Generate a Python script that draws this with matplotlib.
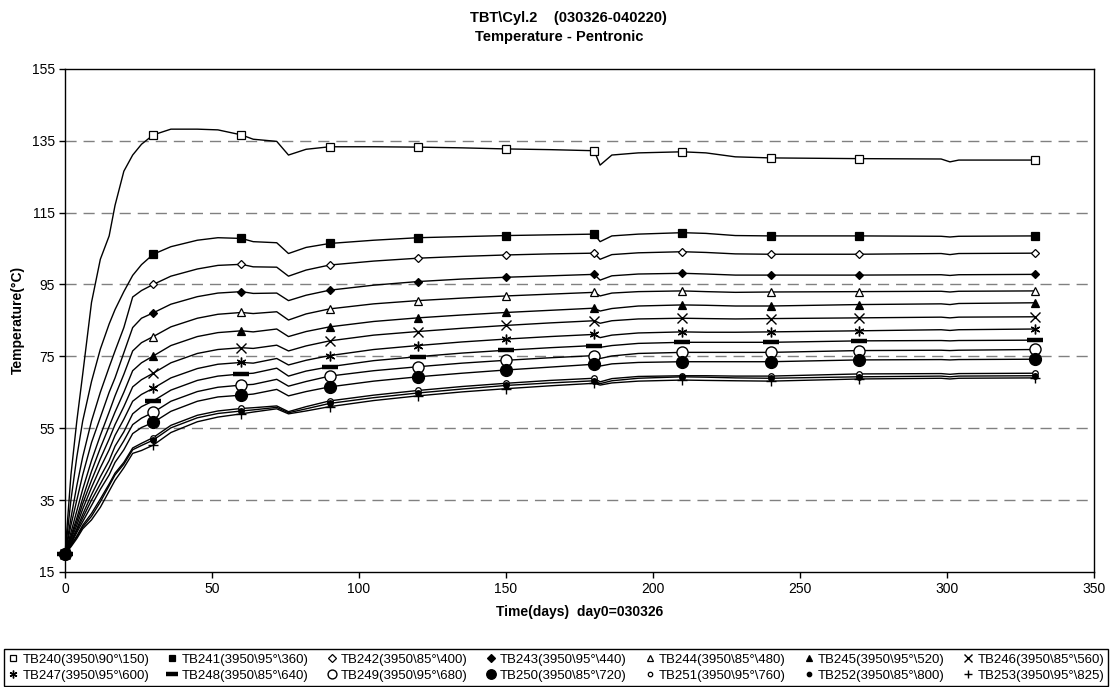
import matplotlib
matplotlib.use("Agg")
import matplotlib.pyplot as plt
from matplotlib.lines import Line2D

plt.rcParams['font.family'] = ['Liberation Sans', 'DejaVu Sans']

# time grid (days) and the days that carry a marker
days = [0, 2, 4, 6, 9, 12, 15, 17, 20, 23, 26, 30, 36, 45, 52, 60, 64, 72, 76, 82,
        90, 105, 120, 135, 150, 165, 180, 182, 186, 195, 210, 218, 228, 240, 270,
        298, 301, 304, 330]
mark_days = [0, 30, 60, 90, 120, 150, 180, 210, 240, 270, 330]

tb240 = [20, 42, 57, 70, 90, 102, 108.5, 117, 126.5, 131, 134, 136.6, 138.2, 138.2, 138.0, 136.6, 135.4, 134.8, 131.0, 132.6,
         133.3, 133.3, 133.2, 133.0, 132.7, 132.5, 132.2, 128.2, 131.0, 131.6, 131.9, 131.6, 130.5, 130.2, 130.0,
         129.9, 129.1, 129.6, 129.6]
tb241 = [20, 35, 47, 57, 68, 77, 84, 88, 93, 97.5, 100.5, 103.4, 105.5, 107.3, 108.0, 107.8, 106.9, 106.6, 103.6, 105.3,
         106.4, 107.3, 108.0, 108.3, 108.6, 108.8, 109.0, 106.9, 108.5, 109.0, 109.4, 109.2, 108.6, 108.5, 108.5,
         108.4, 108.2, 108.4, 108.5]
tb242 = [20, 30, 39, 47, 57, 65, 72, 76.5, 83, 91.5, 93.3, 95.0, 97.3, 99.3, 100.3, 100.6, 99.9, 99.8, 97.3, 99.0,
         100.4, 101.5, 102.3, 102.8, 103.2, 103.5, 103.7, 102.0, 103.3, 103.8, 104.1, 103.9, 103.5, 103.4, 103.4,
         103.6, 103.3, 103.6, 103.7]
tb243 = [20, 28, 35, 42, 51, 58, 65, 69, 76, 83, 85.6, 87.1, 89.5, 91.6, 92.6, 93.0, 92.5, 92.6, 90.5, 92.0,
         93.4, 94.8, 95.8, 96.5, 97.0, 97.4, 97.8, 96.2, 97.4, 97.9, 98.1, 97.9, 97.6, 97.6, 97.6,
         97.7, 97.5, 97.7, 97.8]
tb244 = [20, 26, 32, 38, 46, 53, 59.5, 64, 70, 76.5, 78.8, 80.5, 83.2, 85.6, 86.7, 87.2, 86.9, 87.4, 85.1, 86.8,
         88.2, 89.6, 90.5, 91.2, 91.8, 92.3, 92.8, 91.8, 92.6, 93.0, 93.2, 93.0, 92.8, 92.9, 93.0,
         93.1, 92.9, 93.1, 93.2]
tb245 = [20, 25, 30, 35.5, 43, 49.5, 55.5, 59.5, 65, 71, 73.2, 75.1, 78.0, 80.5, 81.6, 82.1, 81.8, 82.6, 80.5, 81.9,
         83.2, 84.7, 85.7, 86.5, 87.2, 87.8, 88.4, 87.6, 88.3, 89.0, 89.3, 89.2, 89.0, 89.0, 89.4,
         89.6, 89.4, 89.7, 89.9]
tb246 = [20, 24.5, 29, 34, 40.5, 46.5, 52, 56, 61, 66.5, 68.5, 70.3, 73.2, 75.8, 76.9, 77.4, 77.2, 78.1, 76.5, 77.9,
         79.3, 80.9, 81.9, 82.8, 83.6, 84.3, 84.9, 84.2, 84.9, 85.4, 85.6, 85.5, 85.4, 85.5, 85.7,
         85.9, 85.7, 85.9, 86.0]
tb247 = [20, 24, 28, 32.5, 38.5, 44, 49, 53, 57.5, 62.5, 64.4, 66.1, 69.0, 71.6, 72.8, 73.3, 73.1, 74.4, 72.6, 73.9,
         75.2, 76.9, 78.0, 79.0, 79.8, 80.5, 81.1, 80.2, 80.9, 81.5, 81.8, 81.7, 81.7, 81.8, 82.1,
         82.4, 82.2, 82.4, 82.6]
tb248 = [20, 23.5, 27, 31, 36.5, 41.5, 46, 50, 54, 59, 61, 62.6, 65.6, 68.3, 69.5, 70.1, 70.3, 71.7, 69.5, 70.9,
         72.1, 73.8, 74.9, 75.9, 76.7, 77.4, 78.0, 77.5, 78.0, 78.6, 78.9, 78.9, 78.9, 78.9, 79.3,
         79.4, 79.3, 79.4, 79.5]
tb249 = [20, 23, 26.5, 30, 35, 39.5, 44, 47.5, 51.5, 56, 57.8, 59.4, 62.5, 65.2, 66.4, 67.0, 67.2, 68.6, 66.7, 68.0,
         69.5, 71.0, 72.1, 73.1, 73.9, 74.6, 75.2, 74.4, 75.1, 75.8, 76.1, 76.1, 76.1, 76.1, 76.6,
         76.7, 76.6, 76.7, 76.9]
tb250 = [20, 22.8, 26, 29, 33.5, 38, 42, 45.5, 49, 53.5, 55.2, 56.6, 59.7, 62.5, 63.7, 64.2, 64.5, 65.8, 64.0, 65.2,
         66.5, 68.1, 69.3, 70.3, 71.2, 72.0, 72.8, 72.3, 72.9, 73.3, 73.5, 73.5, 73.5, 73.5, 74.0,
         74.1, 74.0, 74.1, 74.2]
tb251 = [20, 22.5, 25, 28, 31.3, 35.3, 39.5, 42.5, 45.5, 49.5, 50.8, 52.4, 55.8, 58.6, 59.8, 60.5, 60.7, 61.2, 59.6, 61.0,
         62.6, 64.2, 65.5, 66.6, 67.5, 68.3, 68.9, 67.9, 68.8, 69.4, 69.6, 69.6, 69.5, 69.5, 70.1,
         70.2, 70.0, 70.2, 70.3]
tb252 = [20, 22.3, 24.8, 27.5, 30.5, 34.5, 39, 42, 45, 49, 50.2, 51.7, 55.1, 57.9, 59.1, 59.8, 60.1, 60.8, 59.3, 60.4,
         61.9, 63.5, 64.8, 65.9, 66.9, 67.6, 68.2, 67.4, 68.2, 68.9, 69.3, 69.2, 69.0, 68.9, 69.3,
         69.5, 69.3, 69.5, 69.6]
tb253 = [20, 22, 24.3, 27, 29.5, 33, 37.5, 40.5, 44, 48, 48.8, 50.3, 53.8, 56.8, 58.1, 59.0, 59.5, 60.4, 59.0, 59.8,
         61.0, 62.7, 64.0, 65.1, 66.0, 66.8, 67.5, 67.0, 67.6, 68.1, 68.4, 68.3, 68.2, 68.1, 68.7,
         68.9, 68.7, 68.9, 69.0]

labels = ["TB240(3950\\90°\\150)", "TB241(3950\\95°\\360)", "TB242(3950\\85°\\400)",
          "TB243(3950\\95°\\440)", "TB244(3950\\85°\\480)", "TB245(3950\\95°\\520)",
          "TB246(3950\\85°\\560)", "TB247(3950\\95°\\600)", "TB248(3950\\85°\\640)",
          "TB249(3950\\95°\\680)", "TB250(3950\\85°\\720)", "TB251(3950\\95°\\760)",
          "TB252(3950\\85°\\800)", "TB253(3950\\95°\\825)"]

series = [tb240, tb241, tb242, tb243, tb244, tb245, tb246,
          tb247, tb248, tb249, tb250, tb251, tb252, tb253]

# marker, size, face colour, edge width
styles = [("s", 6, "white", 0.9), ("s", 6, "black", 0.9), ("D", 4.5, "white", 0.9),
          ("D", 4.5, "black", 0.9), ("^", 6, "white", 0.9), ("^", 6, "black", 0.9),
          ("x", 6.5, "black", 1.0), ((6, 2, 0), 7, "black", 1.0), ("_", 11, "black", 3.2),
          ("o", 8, "white", 1.0), ("o", 8.5, "black", 1.0), ("o", 4, "white", 0.9),
          ("o", 4, "black", 0.9), ("+", 7, "black", 1.0)]

mk_idx = [i for i, d in enumerate(days) if d in mark_days]

fig = plt.figure(figsize=(11.12, 6.87), dpi=100)
ax = fig.add_axes([0.0585, 0.1674, 0.9253, 0.7325])

for y in range(35, 155, 20):
    ax.axhline(y, color="#808080", lw=1.0, dashes=(8, 5), zorder=0)

handles = []
for vals, (m, ms, fc, mew) in zip(series, styles):
    ax.plot(days, vals, color="black", lw=1.0, marker=m, ms=ms, mfc=fc, mec="black",
            mew=mew, markevery=mk_idx, clip_on=False, zorder=3)
    handles.append(Line2D([], [], ls="none", marker=m, ms=ms * 0.8, mfc=fc,
                          mec="black", mew=mew))

ax.set_xlim(0, 350)
ax.set_ylim(15, 155)
ax.set_xticks(range(0, 351, 50))
ax.set_yticks(range(15, 156, 20))
ax.tick_params(direction="out", length=4, width=1, labelsize=10, colors="black")
for s in ax.spines.values():
    s.set_linewidth(1.0)
    s.set_color("black")

ax.set_xlabel("Time(days)  day0=030326", fontsize=10, fontweight="bold", labelpad=6)
ax.set_ylabel("Temperature(°C)", fontsize=10, fontweight="bold", labelpad=5)

fig.text(0.511, 0.974, "TBT\\Cyl.2    (030326-040220)", ha="center", va="center",
         fontsize=10.5, fontweight="bold")
fig.text(0.503, 0.946, "Temperature - Pentronic", ha="center", va="center",
         fontsize=10.5, fontweight="bold")

# legend fills column-wise: reorder so rows read TB240..TB246 / TB247..TB253
order = []
for c in range(7):
    order += [c, c + 7]
leg = fig.legend([handles[i] for i in order], [labels[i] for i in order], ncol=7,
                 loc="lower center", bbox_to_anchor=(0.5, 0.0), fontsize=9.5,
                 frameon=True, fancybox=False, edgecolor="black", framealpha=1,
                 handlelength=0.8, handletextpad=0.3, columnspacing=1.35,
                 borderpad=0.3, labelspacing=0.3, borderaxespad=0.1)
leg.get_frame().set_linewidth(1.0)

fig.savefig("out.png", dpi=100)
